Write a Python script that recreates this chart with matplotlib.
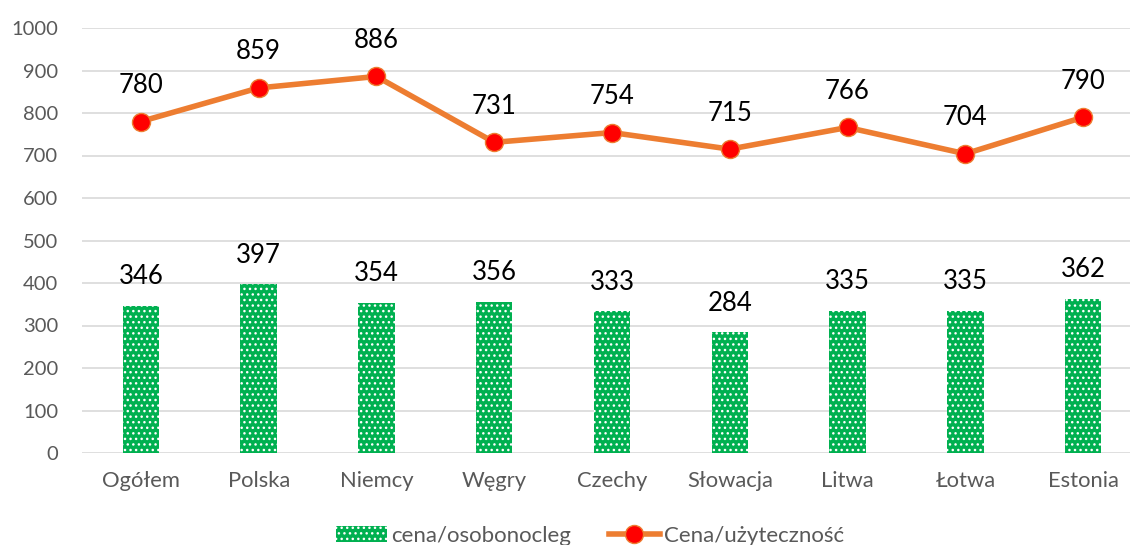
import matplotlib
matplotlib.use("Agg")
import matplotlib.pyplot as plt
from matplotlib.lines import Line2D
from matplotlib.patches import Patch

categories = ["Ogółem", "Polska", "Niemcy", "Węgry", "Czechy", "Słowacja", "Litwa", "Łotwa", "Estonia"]
bar_values = [346, 397, 354, 356, 333, 284, 335, 335, 362]
line_values = [780, 859, 886, 731, 754, 715, 766, 704, 790]
bar_label = "cena/osobonocleg"
line_label = "Cena/użyteczność"
yticks = [0, 100, 200, 300, 400, 500, 600, 700, 800, 900, 1000]

plt.rcParams['font.family'] = ['Lato', 'DejaVu Sans']
plt.rcParams['hatch.linewidth'] = 1.0

green = "#00B050"
orange = "#ED7D31"

fig = plt.figure(figsize=(11.3, 5.45), dpi=100)
ax = fig.add_axes([82/1130, 92/545, 1 - 82/1130, (453-28)/545])

x = list(range(len(categories)))
ax.bar(x, bar_values, width=0.31, color=green, edgecolor="white", linewidth=0,
       hatch="...", zorder=2)
ax.plot(x, line_values, color=orange, linewidth=4, marker="o", markersize=13,
        markerfacecolor="#FF0000", markeredgecolor=orange, markeredgewidth=1, zorder=3)

for xi, v in zip(x, bar_values):
    ax.annotate(str(v), (xi, v), xytext=(0, 21), textcoords="offset points",
                ha="center", va="center", fontsize=18.5, color="black")
for xi, v in zip(x, line_values):
    ax.annotate(str(v), (xi, v), xytext=(0, 26), textcoords="offset points",
                ha="center", va="center", fontsize=18.5, color="black")

ax.set_ylim(0, 1000)
ax.set_xlim(-0.5, 8.5 - 12/117.75)
ax.set_yticks(yticks)
ax.set_xticks(x)
ax.set_xticklabels(categories)
ax.tick_params(axis="both", length=0, labelsize=14.5, labelcolor="#595959")
ax.tick_params(axis="x", pad=13, labelsize=15.8)
ax.tick_params(axis="y", pad=17)
ax.grid(axis="y", color="#D9D9D9", linewidth=1.2, zorder=0)
ax.set_axisbelow(True)
for s in ax.spines.values():
    s.set_visible(False)

handles = [
    Patch(facecolor=green, edgecolor="white", linewidth=0, hatch="..."),
    Line2D([0], [0], color=orange, linewidth=4, marker="o", markersize=13,
           markerfacecolor="#FF0000", markeredgecolor=orange),
]
leg = fig.legend(handles, [bar_label, line_label], loc="center",
                 bbox_to_anchor=(590/1130, 1 - 536/545), ncol=2, frameon=False,
                 fontsize=16, handlelength=2.3, handleheight=0.7,
                 columnspacing=1.7, handletextpad=0.2)
for t in leg.get_texts():
    t.set_color("#595959")

fig.savefig("out.png", dpi=100)
